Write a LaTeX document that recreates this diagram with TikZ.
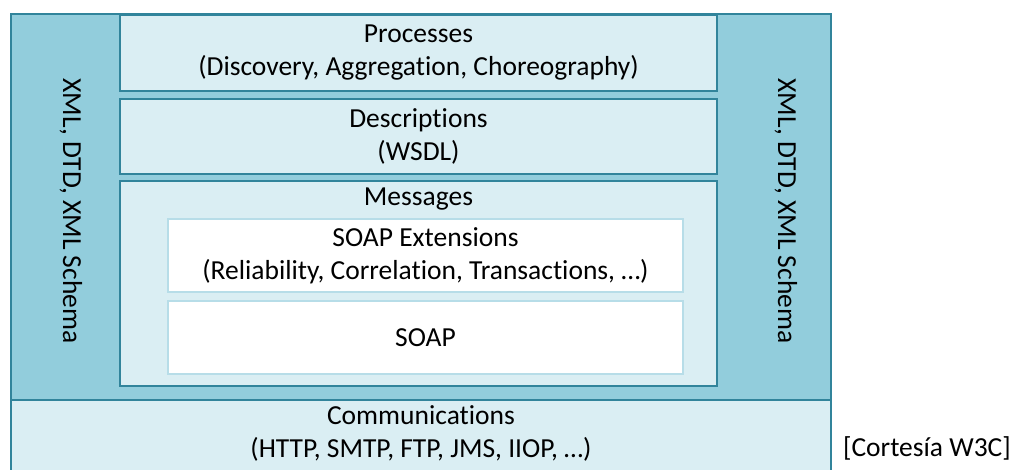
\documentclass[tikz,border=0pt]{standalone}
\usepackage{fontspec}
\setmainfont{Carlito}[Ligatures=NoCommon]
\definecolor{darkfill}{HTML}{92CDDC}
\definecolor{lightfill}{HTML}{DAEEF3}
\definecolor{edge}{HTML}{31849B}
\definecolor{paleedge}{HTML}{B7DDE8}
\begin{document}
\begin{tikzpicture}[x=1pt,y=-1pt,
  every node/.style={font=\fontsize{27.5}{33}\selectfont, text=black, align=center, inner sep=0pt},
  outerbox/.style={draw=edge, fill=darkfill, line width=2pt},
  layerbox/.style={draw=edge, fill=lightfill, line width=2pt},
  whitebox/.style={draw=paleedge, fill=white, line width=2.5pt}]
\useasboundingbox (0,0) rectangle (1013,470);
% outer frame
\node[outerbox, minimum width=820pt, minimum height=386pt] (outer) at (421,207) {};
% layers
\node[layerbox, minimum width=597pt, minimum height=76pt] (proc) at (418.5,53) {};
\node[layerbox, minimum width=597pt, minimum height=75pt] (desc) at (418.5,136.5) {};
\node[layerbox, minimum width=597pt, minimum height=205pt] (msg) at (418.5,283.5) {};
\node[whitebox, minimum width=515pt, minimum height=73pt] (soapext) at (425.5,255.5) {};
\node[whitebox, minimum width=515pt, minimum height=73pt] (soap) at (425.5,337.5) {};
% communications (extends below the page)
\fill[lightfill] (11,400) rectangle (831,472);
\draw[edge, line width=2pt] (11,472) -- (11,400) -- (831,400) -- (831,472);
\coordinate (comm) at (421,433);
% texts
\node (proct) at (proc.center) {Processes\\(Discovery, Aggregation, Choreography)};
\node (desct) at (desc.center) {Descriptions\\(WSDL)};
\node (msgt) at (418.5,199) {Messages};
\node (soapextt) at (soapext.center) {SOAP Extensions\\(Reliability, Correlation, Transactions, …)};
\node (soapt) at (soap.center) {SOAP};
\node (commt) at (comm) {Communications\\(HTTP, SMTP, FTP, JMS, IIOP, …)};
\node[rotate=-90] (left) at (71,211) {XML, DTD, XML Schema};
\node[rotate=-90] (right) at (786,211) {XML, DTD, XML Schema};
\node[anchor=east] (credit) at (1011,448) {[Cortesía W3C]};
\end{tikzpicture}
\end{document}
